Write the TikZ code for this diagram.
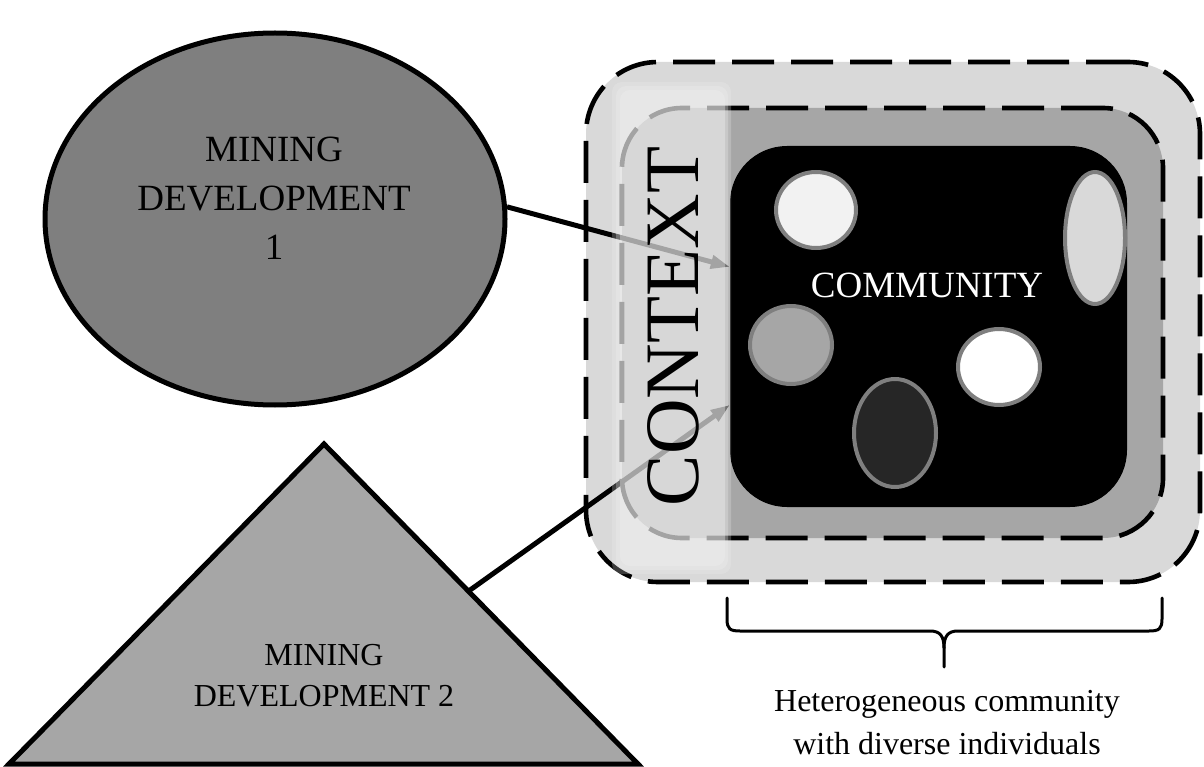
\documentclass[tikz,border=0pt]{standalone}
\usepackage{fontspec}
\setmainfont{Liberation Serif}
\usetikzlibrary{shapes.geometric,arrows.meta,calc}

\definecolor{devgray}{HTML}{7F7F7F}
\definecolor{midgray}{HTML}{A6A6A6}
\definecolor{palegray}{HTML}{D9D9D9}
\definecolor{snowgray}{HTML}{F2F2F2}
\definecolor{darkfill}{HTML}{262626}
\definecolor{veilgray}{HTML}{EFEFEF}

\begin{document}
\begin{tikzpicture}[x=1pt,y=-1pt,
  outline/.style={draw=black,line width=5pt},
  zone/.style={draw=black,line width=4.6pt,dash pattern=on 42pt off 17pt,
    rectangle,inner sep=0pt},
  person/.style={ellipse,draw=devgray,line width=4pt,inner sep=0pt},
  link/.style={line width=5pt,-{Triangle[length=19pt,width=13pt]}},
  veil/.style={fill=veilgray,draw=none,rounded corners=10pt},
  plain/.style={inner sep=0pt,align=center}
]
\useasboundingbox (0,0) rectangle (1204,767);

% mining development 1
\node[ellipse,outline,fill=devgray,inner sep=0pt,
      minimum width=460pt,minimum height=372pt] (dev1) at (275,219) {};
\node[plain,font=\fontsize{37}{49}\selectfont] (dev1txt) at (274,198.5)
  {MINING\\DEVELOPMENT\\1};

% mining development 2
\coordinate (apex) at (324,444);
\coordinate (bl) at (9,764);
\coordinate (br) at (638,764);
\draw[outline,fill=midgray,line join=miter] (apex) -- (bl) -- (br) -- cycle;
\node[plain,font=\fontsize{32}{41}\selectfont] (dev2txt) at (324,675.5)
  {MINING\\DEVELOPMENT 2};
\coordinate (dev2out) at ($(apex)!0.46!(br)$);

% context and community zones
\node[zone,fill=palegray,rounded corners=72pt,
      minimum width=614pt,minimum height=520pt] (outer) at (893,322) {};
\node[zone,fill=midgray,rounded corners=60pt,
      minimum width=541pt,minimum height=430pt] (inner) at (892.5,323) {};
\node[rectangle,fill=black,draw=none,rounded corners=57pt,inner sep=0pt,
      minimum width=397pt,minimum height=361pt] (comm) at (928.5,326.5) {};

% individuals
\node[person,fill=snowgray,minimum width=80pt,minimum height=76pt] (p1) at (816,210) {};
\node[person,fill=midgray,minimum width=82pt,minimum height=78pt] (p2) at (791,345) {};
\node[person,fill=white,minimum width=82pt,minimum height=76pt] (p3) at (999,367) {};
\node[person,fill=darkfill,minimum width=82pt,minimum height=108pt] (p4) at (895,433) {};
\node[person,fill=palegray,minimum width=60pt,minimum height=132pt] (p5) at (1095,238) {};

\node[plain,text=white,font=\fontsize{37}{44}\selectfont] (commtxt) at (927,285.7) {COMMUNITY};

% influences
\coordinate (hit1) at ($(comm.north west)!0.335!(comm.south west)$);
\coordinate (hit2) at ($(comm.north west)!0.717!(comm.south west)$);
\draw[link] (dev1.3) -- (hit1);
\draw[link] (dev2out) -- (hit2);

% context band, softened at its edges
\fill[veil,fill opacity=0.25] (612,82) rectangle (731,574);
\fill[veil,fill opacity=0.30] (616,86) rectangle (728,570);
\fill[veil,fill opacity=0.40] (620,90) rectangle (725,566);
\node[plain,rotate=90,font=\fontsize{77}{82}\selectfont] (ctxtxt) at (673,326.5) {CONTEXT};

% brace under the community
\coordinate (brl) at (727,598);
\coordinate (brr) at (1162,598);
\coordinate (brtip) at (944,667);
\draw[line width=3pt,line cap=round,line join=round]
  (brl) -- (727,619) .. controls (727,629) and (730,631) .. (740,631)
  -- (930,631) .. controls (940,631) and (944,636) .. (944,648) -- (brtip);
\draw[line width=3pt,line cap=round,line join=round]
  (brr) -- (1162,619) .. controls (1162,629) and (1159,631) .. (1149,631)
  -- (958,631) .. controls (948,631) and (944,636) .. (944,648);
\node[plain,anchor=north,font=\fontsize{32}{43}\selectfont] (caption) at (947,690)
  {Heterogeneous community\\with diverse individuals};
\end{tikzpicture}
\end{document}
